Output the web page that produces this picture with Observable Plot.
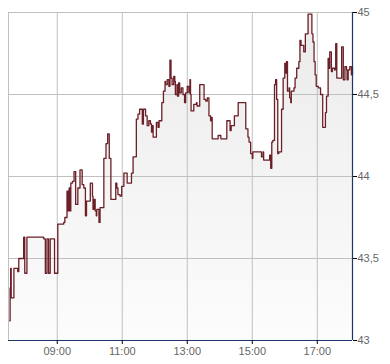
<!DOCTYPE html>
<html><head><meta charset="utf-8">
<script src="https://cdn.jsdelivr.net/npm/d3@7"></script>
<script src="https://cdn.jsdelivr.net/npm/@observablehq/plot@0.6"></script>
<style>body{margin:0;background:#fff}</style>
</head><body><div id="chart"></div>
<script>
const times = [
"07:32","07:33","07:34","07:35","07:40","07:47","07:49","07:58","08:00","08:04",
"08:35","08:38","08:41","08:44","08:47","08:55","09:01",
"09:12","09:14","09:18","09:20","09:22","09:24","09:25","09:28","09:31","09:34",
"09:38","09:42","09:46","09:49","09:52","09:54","10:01","10:05","10:06","10:08",
"10:10","10:12","10:13","10:17","10:19","10:26","10:30","10:33","10:36","10:39",
"10:48","10:50","10:52","10:56","10:59","11:03","11:09","11:17","11:20","11:26",
"11:29","11:32","11:37","11:39","11:43","11:46","11:49","11:52","11:54","11:55",
"11:57","12:03","12:06","12:08","12:13","12:16","12:19","12:20","12:23","12:26",
"12:28","12:30","12:32","12:35","12:37","12:38","12:41","12:42","12:44","12:46",
"12:49","12:52","12:55","12:57","13:00","13:03","13:05","13:06","13:07","13:12",
"13:17","13:18","13:23","13:31","13:34","13:37","13:40","13:43","13:45","13:46",
"13:57","14:02","14:13","14:19","14:21","14:27","14:34",
"14:48","14:52","14:54","14:57","15:00","15:01","15:17","15:20","15:21","15:32",
"15:34","15:36","15:38","15:41","15:43","15:45","15:47","15:49","15:54","15:57",
"16:00","16:01","16:03","16:05","16:08","16:09","16:11","16:12","16:17","16:19",
"16:22","16:26","16:28","16:30","16:35","16:38","16:43","16:50","16:52","16:54",
"16:56","16:58","17:02","17:06","17:10","17:13","17:15","17:17","17:20","17:21",
"17:23","17:26","17:28","17:32","17:34","17:36","17:45","17:48","17:51","17:54",
"17:55","17:57","18:00","18:03","18:05"
];
const values = [
43.12,43.32,43.44,43.26,43.44,43.42,43.50,43.63,43.41,43.63,
43.62,43.41,43.62,43.41,43.62,43.41,43.71,
43.72,43.75,43.91,43.79,43.93,43.79,43.96,43.97,44.03,43.83,
43.93,44.04,43.95,43.93,43.76,43.85,43.96,43.88,43.80,43.86,
43.79,43.76,43.80,43.72,43.81,44.11,44.20,44.26,44.11,43.86,
43.96,43.93,43.89,43.88,43.94,44.02,43.96,44.02,44.12,44.35,
44.38,44.41,44.32,44.41,44.37,44.31,44.34,44.32,44.27,44.31,
44.24,44.33,44.30,44.34,44.45,44.52,44.58,44.56,44.59,44.55,
44.71,44.60,44.56,44.61,44.58,44.50,44.56,44.49,44.57,44.51,
44.54,44.50,44.45,44.51,44.55,44.51,44.59,44.50,44.40,44.44,
44.45,44.43,44.56,44.47,44.46,44.48,44.37,44.34,44.36,44.23,
44.25,44.23,44.34,44.28,44.31,44.37,44.45,
44.29,44.24,44.21,44.14,44.11,44.15,44.12,44.15,44.10,44.13,
44.05,44.21,44.22,44.56,44.59,44.47,44.14,44.15,44.41,44.60,
44.69,44.63,44.70,44.52,44.54,44.48,44.45,44.52,44.54,44.60,
44.66,44.70,44.83,44.80,44.76,44.87,44.99,44.87,44.82,44.70,
44.62,44.55,44.54,44.50,44.30,44.30,44.39,44.49,44.72,44.66,
44.76,44.64,44.66,44.65,44.81,44.60,44.79,44.59,44.67,44.65,
44.59,44.65,44.67,44.62,44.67
];
const yTicks = [43, 43.5, 44, 44.5, 45];
const xTickLabels = ["09:00","11:00","13:00","15:00","17:00"];
const domainTimes = ["07:30","18:05"];
const yDomain = [43, 45];

const toDate = s => { const [h, m] = s.split(":").map(Number); return new Date(Date.UTC(2024, 0, 2, h, m)); };
const data = times.map((t, i) => ({date: toDate(t), value: values[i]}));
const xTicks = xTickLabels.map(toDate);
const xDom = domainTimes.map(toDate);

const grid = "#c0c0c0", navy = "#1f3766", lineColor = "#6b1f26";

const chart = Plot.plot({
  width: 390, height: 364,
  marginLeft: 8, marginRight: 38, marginTop: 12, marginBottom: 24,
  style: {fontFamily: "'Liberation Sans', Arial, sans-serif", fontSize: "11px", background: "#fff", overflow: "visible"},
  x: {type: "utc", domain: xDom},
  y: {domain: yDomain},
  marks: [
    Plot.areaY(data, {x: "date", y1: yDomain[0], y2: "value", curve: "step-after", fill: "url(#areaGrad)"}),
    Plot.ruleX(xTicks, {stroke: grid}),
    Plot.ruleY(yTicks.slice(1), {stroke: grid}),
    Plot.ruleX([xDom[0]], {stroke: grid}),
    Plot.line(data, {x: "date", y: "value", curve: "step-after", stroke: lineColor, strokeWidth: 1.3}),
    Plot.ruleY([yDomain[0]], {stroke: navy, strokeWidth: 1.2}),
    Plot.ruleX([xDom[1]], {stroke: navy, strokeWidth: 1.2}),
    Plot.axisY({ticks: yTicks, anchor: "right", tickSize: 4, tickPadding: 1, stroke: "#000", fill: "#666",
      tickFormat: d => String(d).replace(".", ","), label: null}),
    Plot.axisX({ticks: xTicks, anchor: "bottom", tickSize: 4, tickPadding: 3, stroke: "#000", fill: "#666",
      tickFormat: d3.utcFormat("%H:%M"), label: null})
  ]
});
document.getElementById("chart").append(chart);

const svg = chart.tagName.toLowerCase() === "svg" ? chart : chart.querySelector("svg");
const ns = "http://www.w3.org/2000/svg";
const defs = document.createElementNS(ns, "defs");
const lg = document.createElementNS(ns, "linearGradient");
lg.setAttribute("id", "areaGrad");
lg.setAttribute("gradientUnits", "userSpaceOnUse");
lg.setAttribute("x1", 0); lg.setAttribute("x2", 0);
lg.setAttribute("y1", 12); lg.setAttribute("y2", 340);
[["0", "#ebebeb"], ["1", "#fcfcfc"]].forEach(([o, c]) => {
  const st = document.createElementNS(ns, "stop");
  st.setAttribute("offset", o); st.setAttribute("stop-color", c);
  lg.appendChild(st);
});
defs.appendChild(lg);
svg.insertBefore(defs, svg.firstChild);
</script>
</body></html>
